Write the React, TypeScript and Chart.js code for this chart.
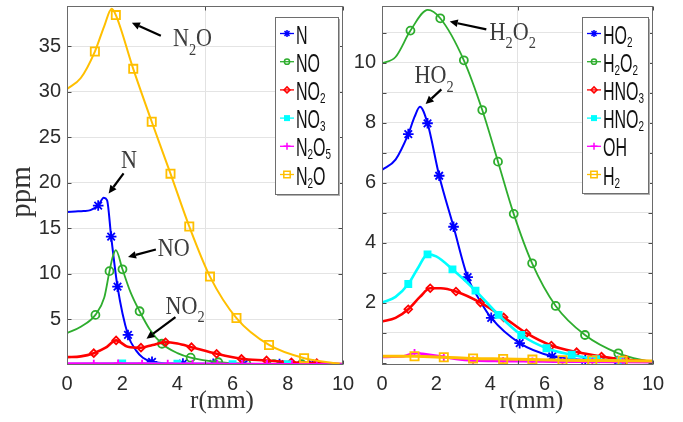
import React, { useEffect, useRef } from 'react';
import { Chart, registerables } from 'chart.js';

Chart.register(...registerables);

type Pt = [number, number, number]; // r (mm), ppm, 1 = marker drawn at this point

// ---------------- left panel: nitrogen species ----------------
const N_data: Pt[] = [
  [0, 16.8, 0], [0.3, 16.85, 0], [0.6, 16.9, 0], [0.85, 17.0, 0], [1.13, 17.5, 1], [1.33, 18.35, 0],
  [1.45, 18.1, 0], [1.6, 14.1, 1], [1.83, 8.6, 1], [2.21, 3.3, 1], [2.5, 1.6, 0], [2.75, 0.8, 0],
  [3.08, 0.35, 1], [3.5, 0.2, 0], [4.2, 0.15, 1], [5.3, 0.12, 1], [6.4, 0.1, 1], [7.7, 0.1, 1],
  [8.9, 0.08, 1], [10, 0.05, 0],
];
const NO_data: Pt[] = [
  [0, 3.5, 0], [0.5, 4.2, 0], [1.03, 5.5, 1], [1.35, 7.4, 0], [1.54, 10.3, 1], [1.66, 11.9, 0],
  [1.77, 12.6, 0], [2.01, 10.5, 1], [2.3, 8.0, 0], [2.63, 5.9, 1], [3.0, 3.9, 0], [3.44, 2.33, 1],
  [4.0, 1.3, 0], [4.48, 0.8, 1], [5.48, 0.3, 1], [6.5, 0.15, 1], [7.5, 0.1, 1], [8.5, 0.08, 1],
  [10, 0.05, 0],
];
const NO2_data: Pt[] = [
  [0, 0.86, 0], [0.5, 0.95, 0], [0.97, 1.3, 1], [1.4, 1.9, 0], [1.78, 2.7, 1], [2.2, 2.0, 0],
  [2.68, 1.9, 1], [3.1, 2.2, 0], [3.57, 2.5, 1], [4.0, 2.35, 0], [4.51, 1.96, 1], [5.42, 1.23, 1],
  [6.32, 0.68, 1], [7.23, 0.5, 1], [8.13, 0.3, 1], [9.05, 0.2, 1], [10, 0.1, 0],
];
const NO3_data: Pt[] = [
  [0, 0.15, 0], [2, 0.18, 1], [4, 0.15, 1], [6, 0.1, 1], [8, 0.08, 1], [10, 0.05, 0],
];
const N2O5_data: Pt[] = [
  [0, 0.15, 0], [0.97, 0.15, 1], [1.85, 0.17, 1], [2.72, 0.15, 1], [3.65, 0.14, 1], [4.55, 0.13, 1],
  [5.45, 0.12, 1], [6.35, 0.1, 1], [7.25, 0.1, 1], [8.15, 0.08, 1], [9.05, 0.07, 1], [10, 0.05, 0],
];
const N2O_data: Pt[] = [
  [0, 30.3, 0], [0.5, 31.5, 0], [1.01, 34.4, 1], [1.35, 37.2, 0], [1.62, 39.1, 0], [1.77, 38.4, 1],
  [2.4, 32.5, 1], [3.07, 26.7, 1], [3.75, 21.0, 1], [4.43, 15.2, 1], [5.18, 9.7, 1], [6.14, 5.15, 1],
  [7.32, 2.2, 1], [8.59, 0.75, 1], [9.88, 0.13, 0],
];

// ---------------- right panel: hydrogen / oxygen species ----------------
const HO2_data: Pt[] = [
  [0, 6.43, 0], [0.5, 6.78, 0], [0.97, 7.63, 1], [1.2, 8.2, 0], [1.4, 8.54, 0], [1.68, 7.99, 1],
  [2.11, 6.24, 1], [2.64, 4.54, 1], [3.16, 2.86, 1], [3.6, 2.1, 0], [4.03, 1.5, 1], [5.08, 0.66, 1],
  [6.28, 0.22, 1], [7.5, 0.1, 1], [8.7, 0.06, 1], [10, 0.03, 0],
];
const H2O2_data: Pt[] = [
  [0, 9.99, 0], [0.5, 10.2, 0], [1.05, 11.08, 1], [1.69, 11.77, 0], [2.15, 11.49, 1], [3.02, 10.09, 1],
  [3.7, 8.43, 1], [4.28, 6.71, 1], [4.86, 4.97, 1], [5.54, 3.32, 1], [6.41, 1.9, 1], [7.49, 0.93, 1],
  [8.72, 0.32, 1], [9.95, 0.02, 0],
];
const HNO3_data: Pt[] = [
  [0, 1.38, 0], [0.5, 1.5, 0], [0.97, 1.79, 1], [1.4, 2.2, 0], [1.78, 2.49, 1], [2.17, 2.49, 0],
  [2.73, 2.38, 1], [3.63, 2.01, 1], [4.49, 1.52, 1], [5.33, 0.99, 1], [6.25, 0.58, 1], [7.18, 0.36, 1],
  [8.1, 0.21, 1], [9.0, 0.1, 1], [10, 0.04, 0],
];
const HNO2_data: Pt[] = [
  [0, 2.01, 0], [0.5, 2.2, 0], [0.97, 2.63, 1], [1.35, 3.2, 0], [1.68, 3.62, 1], [2.0, 3.55, 0],
  [2.6, 3.12, 1], [3.45, 2.41, 1], [4.3, 1.6, 1], [5.14, 0.93, 1], [6.07, 0.49, 1], [7.0, 0.27, 1],
  [7.9, 0.12, 1], [8.8, 0.07, 1], [10, 0.03, 0],
];
const OH_data: Pt[] = [
  [0, 0.2, 0], [0.8, 0.22, 0], [1.2, 0.33, 1], [1.5, 0.3, 0], [2.28, 0.2, 1], [2.8, 0.12, 0],
  [3.36, 0.08, 1], [4.47, 0.06, 1], [5.55, 0.05, 1], [6.66, 0.04, 1], [7.76, 0.04, 1], [8.88, 0.03, 1],
  [10, 0.02, 0],
];
const H2_data: Pt[] = [
  [0, 0.22, 0], [1.2, 0.22, 1], [2.28, 0.19, 1], [3.36, 0.15, 1], [4.47, 0.13, 1], [5.55, 0.11, 1],
  [6.66, 0.09, 1], [7.76, 0.08, 1], [8.88, 0.07, 1], [10, 0.06, 0],
];

const leftNames = ['N', 'NO', 'NO_2', 'NO_3', 'N_2O_5', 'N_2O'];
const rightNames = ['HO_2', 'H_2O_2', 'HNO_3', 'HNO_2', 'OH', 'H_2'];
const leftSeries = [N_data, NO_data, NO2_data, NO3_data, N2O5_data, N2O_data];
const rightSeries = [HO2_data, H2O2_data, HNO3_data, HNO2_data, OH_data, H2_data];

const xLabelValues = [0, 2, 4, 6, 8, 10];
const xGridValues = [0, 5, 10];
const xTitle = 'r(mm)';
const yTitle = 'ppm';

// annotation label anchors and arrows (data units)
const leftNotes = [
  { text: 'N_2O', at: [3.84, 34.98], from: [3.4, 36.14], to: [2.35, 37.57] },
  { text: 'N', at: [1.96, 21.58], from: [2.05, 21.03], to: [1.51, 18.83] },
  { text: 'NO', at: [3.29, 11.94], from: [3.22, 12.67], to: [2.21, 11.86] },
  { text: 'NO_2', at: [3.57, 5.63], from: [3.93, 5.26], to: [2.88, 2.88] },
];
const rightNotes = [
  { text: 'H_2O_2', at: [3.97, 10.77], from: [3.85, 11.12], to: [2.5, 11.38] },
  { text: 'HO_2', at: [1.2, 9.32], from: [2.19, 9.12], to: [1.61, 8.63] },
];

// ---------------- styles ----------------
const COLORS = ['#0000FF', '#2EAD2E', '#FF0000', '#00FFFF', '#FF00FF', '#FFBF00'];
const MARKERS = ['star', 'circle', 'rectRot', 'rect', 'cross', 'rect'];
const FILLED = [false, false, false, true, false, false];
const RADII = [5.3, 4, 3.8, 4.3, 4, 5.8];
const LEG_RADII = [3.5, 2.6, 3, 3, 3.5, 3.2];
const WIDTHS_L = [2, 1.8, 2.6, 2, 2.6, 2];
const WIDTHS_R = [2, 1.8, 2.6, 2.6, 2.6, 3];

const SANS = '"Liberation Sans", Arial, sans-serif';
const SERIF = '"Liberation Serif", "Times New Roman", serif';

function drawRich(ctx: CanvasRenderingContext2D, text: string, x: number, y: number, size: number,
  family: string, sx: number, color: string, subScale: number, drop: number) {
  ctx.save();
  ctx.translate(x, y);
  ctx.scale(sx, 1);
  ctx.fillStyle = color;
  ctx.textBaseline = 'alphabetic';
  ctx.textAlign = 'left';
  let cx = 0;
  for (let i = 0; i < text.length; i++) {
    const ch = text[i];
    if (ch === '_') {
      const s = text[++i];
      ctx.font = `${size * subScale}px ${family}`;
      ctx.fillText(s, cx, drop * size);
      cx += ctx.measureText(s).width;
    } else {
      ctx.font = `${size}px ${family}`;
      ctx.fillText(ch, cx, 0);
      cx += ctx.measureText(ch).width;
    }
  }
  ctx.restore();
}

function drawMarker(ctx: CanvasRenderingContext2D, style: string, x: number, y: number, r: number,
  color: string, filled: boolean) {
  ctx.save();
  ctx.strokeStyle = color;
  ctx.fillStyle = color;
  ctx.lineWidth = 1.5;
  ctx.beginPath();
  if (style === 'star') {
    for (let k = 0; k < 4; k++) {
      const a = (k * Math.PI) / 4;
      ctx.moveTo(x - r * Math.cos(a), y - r * Math.sin(a));
      ctx.lineTo(x + r * Math.cos(a), y + r * Math.sin(a));
    }
    ctx.stroke();
  } else if (style === 'circle') {
    ctx.arc(x, y, r, 0, Math.PI * 2);
    ctx.stroke();
  } else if (style === 'rectRot') {
    ctx.moveTo(x, y - r); ctx.lineTo(x + r, y); ctx.lineTo(x, y + r); ctx.lineTo(x - r, y); ctx.closePath();
    ctx.stroke();
  } else if (style === 'rect') {
    ctx.rect(x - r, y - r, 2 * r, 2 * r);
    if (filled) ctx.fill(); else ctx.stroke();
  } else if (style === 'cross') {
    ctx.moveTo(x - r, y); ctx.lineTo(x + r, y); ctx.moveTo(x, y - r); ctx.lineTo(x, y + r);
    ctx.stroke();
  }
  ctx.restore();
}

interface PanelCfg {
  key: string;
  canvasLeft: number;
  canvasWidth: number;
  yAxisWidth: number;
  padRight: number;
  series: Pt[][];
  names: string[];
  widths: number[];
  yMin: number;
  yMax: number;
  yStep: number;
  yLabelEvery: number;
  notes: { text: string; at: number[]; from: number[]; to: number[] }[];
  legendWidth: number;
  legendHeight: number;
  legendLineLeft: number;
  showYTitle: boolean;
  xTitleShift: number;
}

function makeDecor(cfg: PanelCfg) {
  return {
    id: 'decor_' + cfg.key,
    afterDraw(chart: any) {
      const { ctx, chartArea: a, scales } = chart;
      const xs = scales.x;
      const ys = scales.y;
      ctx.save();
      const L = Math.round(a.left) + 0.5;
      const T = Math.round(a.top) + 0.5;
      const R = Math.round(a.right) - 0.5;
      const B = Math.round(a.bottom) - 0.5;
      // inward tick marks
      ctx.strokeStyle = '#4a4a4a';
      ctx.lineWidth = 1;
      ctx.beginPath();
      for (const t of ys.ticks) {
        if (t.value <= cfg.yMin + 1e-9) continue;
        const py = Math.round(ys.getPixelForValue(t.value)) + 0.5;
        ctx.moveTo(L, py); ctx.lineTo(L + 4, py);
        ctx.moveTo(R, py); ctx.lineTo(R - 4, py);
      }
      for (const v of xGridValues) {
        const px = Math.round(xs.getPixelForValue(v)) + 0.5;
        ctx.moveTo(px, B); ctx.lineTo(px, B - 4);
        ctx.moveTo(px, T); ctx.lineTo(px, T + 4);
      }
      ctx.stroke();
      // axes box
      ctx.strokeStyle = '#6a6a6a';
      ctx.strokeRect(L, T, R - L, B - T);

      // annotations
      for (const n of cfg.notes) {
        const tx = xs.getPixelForValue(n.at[0]);
        const ty = ys.getPixelForValue(n.at[1]);
        drawRich(ctx, n.text, tx, ty, 26, SERIF, 0.85, '#3c3c3c', 0.65, 0.32);
        const x1 = xs.getPixelForValue(n.from[0]);
        const y1 = ys.getPixelForValue(n.from[1]);
        const x2 = xs.getPixelForValue(n.to[0]);
        const y2 = ys.getPixelForValue(n.to[1]);
        const ang = Math.atan2(y2 - y1, x2 - x1);
        const hl = 8;
        const hw = 3.8;
        const bx = x2 - hl * Math.cos(ang);
        const by = y2 - hl * Math.sin(ang);
        ctx.strokeStyle = '#000';
        ctx.lineWidth = 2.2;
        ctx.beginPath();
        ctx.moveTo(x1, y1);
        ctx.lineTo(bx, by);
        ctx.stroke();
        ctx.fillStyle = '#000';
        ctx.beginPath();
        ctx.moveTo(x2, y2);
        ctx.lineTo(bx + hw * Math.sin(ang), by - hw * Math.cos(ang));
        ctx.lineTo(bx - hw * Math.sin(ang), by + hw * Math.cos(ang));
        ctx.closePath();
        ctx.fill();
      }

      // legend
      const lr = a.right - 5;
      const ll = lr - cfg.legendWidth;
      const lt = a.top + 11;
      const lh = cfg.legendHeight;
      ctx.fillStyle = '#b0b0b0';
      ctx.fillRect(ll + 2, lt + 2, cfg.legendWidth, lh);
      ctx.fillStyle = '#fff';
      ctx.fillRect(ll, lt, cfg.legendWidth, lh);
      ctx.strokeStyle = '#6e6e6e';
      ctx.lineWidth = 1;
      ctx.strokeRect(Math.round(ll) + 0.5, Math.round(lt) + 0.5, cfg.legendWidth, lh);
      cfg.names.forEach((nm, i) => {
        const ry = lt + 16.5 + 28.2 * i;
        const x0 = ll + cfg.legendLineLeft;
        const x1 = x0 + 14;
        ctx.strokeStyle = COLORS[i];
        ctx.lineWidth = 1.3;
        ctx.beginPath();
        ctx.moveTo(x0, ry); ctx.lineTo(x1, ry);
        ctx.stroke();
        drawMarker(ctx, MARKERS[i], (x0 + x1) / 2, ry, LEG_RADII[i], COLORS[i], FILLED[i]);
        drawRich(ctx, nm, x1 + 2, ry + 10, 25, SANS, 0.64, '#111', 0.62, 0.12);
      });

      // axis titles
      ctx.fillStyle = '#333';
      ctx.font = `25px ${SERIF}`;
      ctx.textAlign = 'center';
      ctx.textBaseline = 'alphabetic';
      ctx.fillText(xTitle, (a.left + a.right) / 2 + cfg.xTitleShift, 408);
      if (cfg.showYTitle) {
        ctx.save();
        ctx.translate(30, 192);
        ctx.rotate(-Math.PI / 2);
        ctx.font = `29px ${SERIF}`;
        ctx.fillText(yTitle, 0, 0);
        ctx.restore();
      }
      ctx.restore();
    },
  };
}

function buildConfig(cfg: PanelCfg): any {
  const datasets = cfg.series.map((pts, i) => ({
    label: cfg.names[i],
    data: pts.map(([x, y, m]) => ({ x, y, m })),
    borderColor: COLORS[i],
    backgroundColor: FILLED[i] ? COLORS[i] : 'rgba(0,0,0,0)',
    borderWidth: cfg.widths[i],
    pointStyle: MARKERS[i],
    pointRadius: (c: any) => (c.raw && c.raw.m ? RADII[i] : 0),
    pointBorderWidth: 1.8,
    pointBorderColor: COLORS[i],
    pointBackgroundColor: FILLED[i] ? COLORS[i] : 'rgba(0,0,0,0)',
    cubicInterpolationMode: 'monotone',
    fill: false,
    order: -i,
  }));
  return {
    type: 'line',
    data: { datasets },
    options: {
      responsive: false,
      animation: false,
      devicePixelRatio: 1,
      layout: { padding: { left: 0, top: 6, right: cfg.padRight, bottom: 0 } },
      plugins: { legend: { display: false }, tooltip: { enabled: false }, title: { display: false } },
      scales: {
        x: {
          type: 'linear',
          min: 0,
          max: 10,
          border: { display: false },
          grid: {
            drawTicks: false,
            color: (c: any) => (c.tick && c.tick.value === 5 ? '#e2e2e2' : 'rgba(0,0,0,0)'),
          },
          ticks: {
            stepSize: 1,
            autoSkip: false,
            maxRotation: 0,
            padding: 7,
            color: '#2b2b2b',
            font: { family: SANS, size: 20 },
            callback: (v: number) => (xLabelValues.includes(v) ? String(v) : ''),
          },
          afterFit: (s: any) => {
            s.height = 57;
            s.paddingLeft = 0;
            s.paddingRight = 0;
          },
        },
        y: {
          type: 'linear',
          min: cfg.yMin,
          max: cfg.yMax,
          border: { display: false },
          grid: {
            drawTicks: false,
            color: (c: any) => (c.tick && c.tick.value > cfg.yMin + 0.2 ? '#e4e4e4' : 'rgba(0,0,0,0)'),
          },
          ticks: {
            stepSize: cfg.yStep,
            includeBounds: false,
            autoSkip: false,
            padding: 6,
            color: '#2b2b2b',
            font: { family: SANS, size: 20 },
            callback: (v: number) => (v > 0 && Math.abs(v % cfg.yLabelEvery) < 1e-9 ? String(v) : ''),
          },
          afterFit: (s: any) => {
            s.width = cfg.yAxisWidth;
            s.paddingTop = 0;
            s.paddingBottom = 0;
          },
        },
      },
    },
    plugins: [makeDecor(cfg)],
  };
}

const leftCfg: PanelCfg = {
  key: 'left',
  canvasLeft: 0,
  canvasWidth: 360,
  yAxisWidth: 67,
  padRight: 17,
  series: leftSeries,
  names: leftNames,
  widths: WIDTHS_L,
  yMin: 0,
  yMax: 39.4,
  yStep: 5,
  yLabelEvery: 5,
  notes: leftNotes,
  legendWidth: 63,
  legendHeight: 177,
  legendLineLeft: 5,
  showYTitle: true,
  xTitleShift: 17,
};

const rightCfg: PanelCfg = {
  key: 'right',
  canvasLeft: 345,
  canvasWidth: 338,
  yAxisWidth: 37,
  padRight: 30,
  series: rightSeries,
  names: rightNames,
  widths: WIDTHS_R,
  yMin: -0.07,
  yMax: 11.9,
  yStep: 1,
  yLabelEvery: 2,
  notes: rightNotes,
  legendWidth: 66,
  legendHeight: 176,
  legendLineLeft: 5,
  showYTitle: false,
  xTitleShift: 14,
};

function Panel({ cfg }: { cfg: PanelCfg }) {
  const ref = useRef<HTMLCanvasElement>(null);
  useEffect(() => {
    const chart = new Chart(ref.current as HTMLCanvasElement, buildConfig(cfg));
    return () => chart.destroy();
  }, []);
  return (
    <canvas
      ref={ref}
      width={cfg.canvasWidth}
      height={422}
      style={{ position: 'absolute', left: cfg.canvasLeft, top: 0, width: cfg.canvasWidth, height: 422 }}
    />
  );
}

export default function App() {
  return (
    <div style={{ position: 'absolute', left: 0, top: 0, width: 683, height: 422, background: '#fff' }}>
      <Panel cfg={leftCfg} />
      <Panel cfg={rightCfg} />
    </div>
  );
}
